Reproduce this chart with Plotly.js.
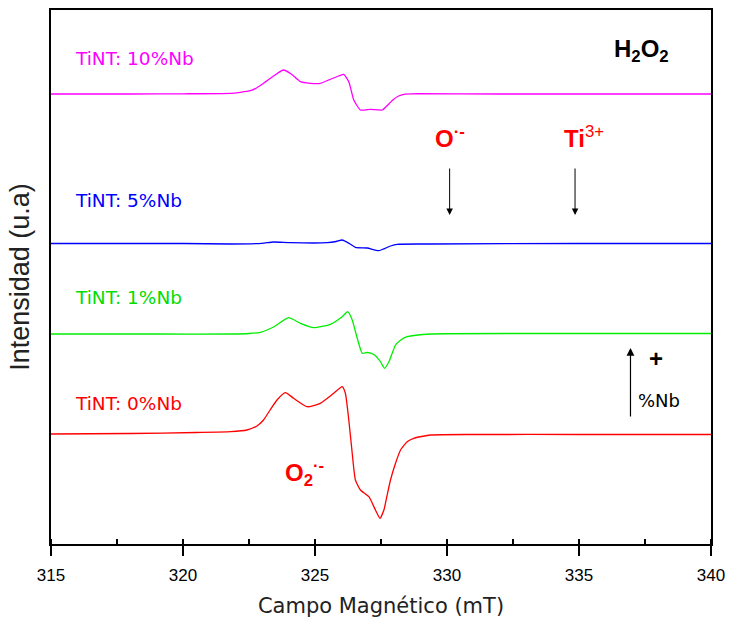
<!DOCTYPE html>
<html>
<head>
<meta charset="utf-8">
<script src="https://cdn.plot.ly/plotly-3.0.1.min.js"></script>
<style>html,body{margin:0;padding:0;background:#fff;}#chart{width:732px;height:620px;}</style>
</head>
<body>
<div id="chart"></div>
<script>
// Magnetic field (mT) and intensity (arbitrary units, stacked with offsets as in the figure)
const field10 = [315, 318, 320, 321.8, 322.17, 322.55, 322.8, 323.05, 323.43, 323.81, 324.1, 324.45, 324.82, 325.2, 325.58, 325.9, 326.09, 326.28, 326.47, 326.72, 327.1, 327.54, 327.72, 327.98, 328.17, 328.36, 328.86, 332, 336, 340];
const int10 = [450, 450, 450.2, 450.7, 451.7, 453.3, 456.3, 460.7, 468, 474, 470, 462.3, 460.7, 460.7, 464.7, 468, 469.7, 462.3, 444, 434, 434.7, 434, 438, 444.7, 448, 449.7, 450.3, 450, 450, 450];

const field5 = [315, 320, 321.8, 322.99, 323.43, 324.07, 325.46, 325.8, 326.03, 326.3, 326.53, 326.98, 327.42, 327.86, 328.11, 329.4, 335, 340];
const int5 = [300.5, 300.5, 300, 300.7, 302, 301.3, 301.3, 302.5, 304, 300.5, 296.7, 296, 293.3, 298, 299.7, 300, 300.5, 300.5];

const field1 = [315, 319, 321.8, 322.5, 322.93, 323.43, 324.0, 324.45, 324.95, 325.58, 326.03, 326.24, 326.41, 326.6, 326.79, 326.98, 327.23, 327.48, 327.63, 327.8, 328.05, 328.25, 328.49, 329.4, 333, 340];
const int1 = [210, 210, 210, 210.5, 211.7, 217, 226.3, 220.7, 216.3, 219.7, 227.3, 232.3, 224, 205.7, 190.7, 191.5, 189.5, 182.3, 175.7, 182.3, 199, 204, 207.3, 210, 210.5, 210.5];

const field0 = [315, 318, 320.5, 321.8, 322.42, 322.8, 323.05, 323.3, 323.56, 323.88, 324.19, 324.7, 325.2, 325.71, 326.03, 326.15, 326.28, 326.41, 326.53, 326.72, 327.04, 327.29, 327.46, 327.61, 327.72, 327.86, 328.05, 328.24, 328.49, 328.74, 329.38, 331, 335, 340];
const int0 = [110, 110.5, 111.5, 112.3, 114, 118, 124, 134, 144, 151.3, 145.7, 137.3, 140.7, 150.7, 157.3, 150.7, 124, 90.7, 64, 54, 47.3, 34, 25.7, 34, 47.3, 64, 80.7, 94, 102.3, 105.7, 109, 109.5, 109.5, 109.5];

const seriesNames = ["TiNT: 10%Nb", "TiNT: 5%Nb", "TiNT: 1%Nb", "TiNT: 0%Nb"];
const seriesColors = ["#ff00ff", "#0000ff", "#00ee00", "#ff0000"];
const labelColors = ["#ff00ff", "#0000ff", "#00dd00", "#ff0000"];
const labelY = [486, 344, 247, 141];

const fields = [field10, field5, field1, field0];
const ints = [int10, int5, int1, int0];

const traces = fields.map((f, i) => ({
  x: f, y: ints[i], type: 'scatter', mode: 'lines', name: seriesNames[i],
  line: {color: seriesColors[i], width: 1.3, shape: 'spline', smoothing: 0.5},
  hoverinfo: 'skip'
}));

const font = "Arial, 'Liberation Sans', sans-serif";
const wide = "'DejaVu Sans', sans-serif";
const annotations = seriesNames.map((n, i) => ({
  x: 315.83, y: labelY[i], xref: 'x', yref: 'y', text: n, showarrow: false,
  xanchor: 'left', yanchor: 'middle', font: {family: wide, size: 18.5, color: labelColors[i]}
}));

annotations.push(
  {x: 337.35, y: 494, xref: 'x', yref: 'y', text: '<b>H<sub>2</sub>O<sub>2</sub></b>', showarrow: false,
   xanchor: 'center', yanchor: 'middle', font: {family: font, size: 24, color: '#000'}},
  {x: 330.1, y: 407, xref: 'x', yref: 'y', text: '<b>O<sup>·-</sup></b>', showarrow: false,
   xanchor: 'center', yanchor: 'middle', font: {family: font, size: 24, color: '#ff0000'}},
  {x: 335.2, y: 407, xref: 'x', yref: 'y', text: '<b>Ti</b><sup>3+</sup>', showarrow: false,
   xanchor: 'center', yanchor: 'middle', font: {family: font, size: 24, color: '#ff0000'}},
  {x: 324.6, y: 71, xref: 'x', yref: 'y', text: '<b>O<sub>2</sub><sup>·-</sup></b>', showarrow: false,
   xanchor: 'center', yanchor: 'middle', font: {family: font, size: 24, color: '#ff0000'}},
  {x: 330.1, y: 329, ax: 330.1, ay: 377, xref: 'x', yref: 'y', axref: 'x', ayref: 'y', text: '',
   showarrow: true, arrowhead: 2, arrowsize: 1.3, arrowwidth: 1, arrowcolor: '#000'},
  {x: 334.85, y: 329, ax: 334.85, ay: 377, xref: 'x', yref: 'y', axref: 'x', ayref: 'y', text: '',
   showarrow: true, arrowhead: 2, arrowsize: 1.3, arrowwidth: 1, arrowcolor: '#000'},
  {x: 336.95, y: 196, ax: 336.95, ay: 126, xref: 'x', yref: 'y', axref: 'x', ayref: 'y', text: '',
   showarrow: true, arrowhead: 2, arrowsize: 1.3, arrowwidth: 1.2, arrowcolor: '#000'},
  {x: 337.9, y: 186, xref: 'x', yref: 'y', text: '<b>+</b>', showarrow: false,
   xanchor: 'center', yanchor: 'middle', font: {family: font, size: 24, color: '#000'}},
  {x: 337.15, y: 144, xref: 'x', yref: 'y', text: '%Nb', showarrow: false,
   xanchor: 'left', yanchor: 'middle', font: {family: wide, size: 18, color: '#000'}}
);

const layout = {
  width: 732, height: 620,
  margin: {l: 51, r: 21, t: 10, b: 76},
  paper_bgcolor: '#fff', plot_bgcolor: '#fff',
  showlegend: false,
  font: {family: font, color: '#000'},
  xaxis: {
    range: [315, 340], tick0: 315, dtick: 5,
    showgrid: false, zeroline: false,
    showline: true, linecolor: '#000', linewidth: 2, mirror: true,
    ticks: 'outside', ticklen: 10, tickwidth: 1.5, tickcolor: '#000',
    minor: {ticks: 'inside', ticklen: 5, tickwidth: 1.5, tickcolor: '#000', dtick: 2.5, showgrid: false},
    tickfont: {family: font, size: 17, color: '#000'},
    ticklabelstandoff: 5,
    title: {text: 'Campo Magnético (mT)', font: {family: wide, size: 21, color: '#222'}, standoff: 14}
  },
  yaxis: {
    range: [0, 534],
    showgrid: false, zeroline: false,
    showline: true, linecolor: '#000', linewidth: 2, mirror: true,
    ticks: '', showticklabels: false,
    title: {text: 'Intensidad (u.a)', font: {family: font, size: 27, color: '#222'}, standoff: 12}
  },
  annotations: annotations
};

Plotly.newPlot('chart', traces, layout, {displayModeBar: false, staticPlot: true});
</script>
</body>
</html>
